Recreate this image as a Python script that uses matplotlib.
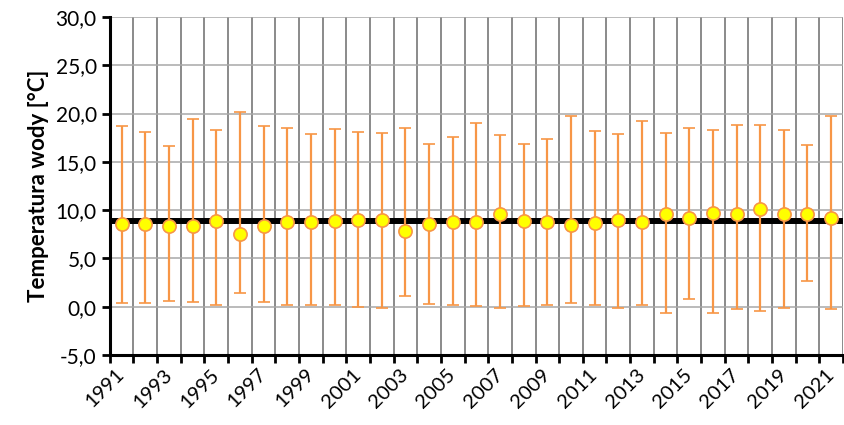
import matplotlib.pyplot as plt
from matplotlib.ticker import FuncFormatter, FixedLocator

# Dane: średnia, minimum i maksimum temperatury wody w kolejnych latach
lata = list(range(1991, 2022))
srednia = [8.6, 8.6, 8.4, 8.4, 8.9, 7.5, 8.4, 8.8, 8.8, 8.9,
           9.0, 9.0, 7.8, 8.6, 8.8, 8.8, 9.6, 8.9, 8.8, 8.5,
           8.7, 9.0, 8.8, 9.6, 9.2, 9.7, 9.6, 10.1, 9.6, 9.6, 9.2]
maksimum = [18.7, 18.1, 16.6, 19.4, 18.3, 20.2, 18.7, 18.5, 17.9, 18.4,
            18.1, 18.0, 18.5, 16.8, 17.6, 19.0, 17.8, 16.9, 17.4, 19.8,
            18.2, 17.9, 19.2, 18.0, 18.5, 18.3, 18.8, 18.8, 18.3, 16.7, 19.7]
minimum = [0.4, 0.4, 0.6, 0.5, 0.2, 1.4, 0.5, 0.2, 0.2, 0.2,
           0.0, -0.1, 1.1, 0.3, 0.2, 0.1, -0.1, 0.1, 0.2, 0.4,
           0.2, -0.1, 0.2, -0.6, 0.8, -0.6, -0.2, -0.4, -0.1, 2.7, -0.2]
srednia_wieloletnia = 8.9

plt.rcParams['font.family'] = ['Lato', 'DejaVu Sans']

fig = plt.figure(figsize=(8.45, 4.25), dpi=100)
ax = fig.add_axes([0.130, 0.1647, 0.8676, 0.7953])

err_dol = [s - mn for s, mn in zip(srednia, minimum)]
err_gora = [mx - s for s, mx in zip(srednia, maksimum)]

# linia średniej wieloletniej
ax.axhline(srednia_wieloletnia, color='black', lw=4.3, zorder=3)

ax.errorbar(lata, srednia, yerr=[err_dol, err_gora], fmt='o',
            color='#F79646', ecolor='#F79646', elinewidth=1.6, capsize=4.6,
            capthick=1.6, markersize=9.5, markerfacecolor='#FFFF00',
            markeredgecolor='#F79646', markeredgewidth=1.2, zorder=4)

ax.set_xlim(1990.5, 2021.5)
ax.set_ylim(-5, 30)
ax.set_yticks(range(-5, 31, 5))
ax.yaxis.set_major_formatter(FuncFormatter(lambda v, p: f'{v:.1f}'.replace('.', ',')))

# podział osi X: granice kategorii (siatka) i etykiety co drugi rok
ax.xaxis.set_major_locator(FixedLocator([r - 0.5 for r in lata] + [lata[-1] + 0.5]))
ax.xaxis.set_major_formatter(FuncFormatter(lambda v, p: ''))
ax.xaxis.set_minor_locator(FixedLocator(lata[::2]))
ax.set_xticklabels([str(r) for r in lata[::2]], minor=True, rotation=45,
                   ha='right', va='center', rotation_mode='anchor')
ax.tick_params(axis='x', which='minor', length=0, pad=12, labelsize=14.5)
ax.tick_params(axis='x', which='major', length=6, width=2, direction='out')
ax.tick_params(axis='y', length=6, width=2, direction='out', labelsize=15)

ax.grid(axis='x', which='major', color='#8a8a8a', lw=1.4, zorder=0)
ax.grid(axis='y', color='#a8a8a8', lw=1.1, zorder=0)
ax.set_axisbelow(True)

for s in ['top', 'right']:
    ax.spines[s].set_visible(False)
for s in ['left', 'bottom']:
    ax.spines[s].set_linewidth(2.2)
    ax.spines[s].set_color('black')

ax.set_ylabel('Temperatura wody [°C]', fontsize=16, fontweight='bold', labelpad=5)

fig.savefig('out.png', dpi=100)
